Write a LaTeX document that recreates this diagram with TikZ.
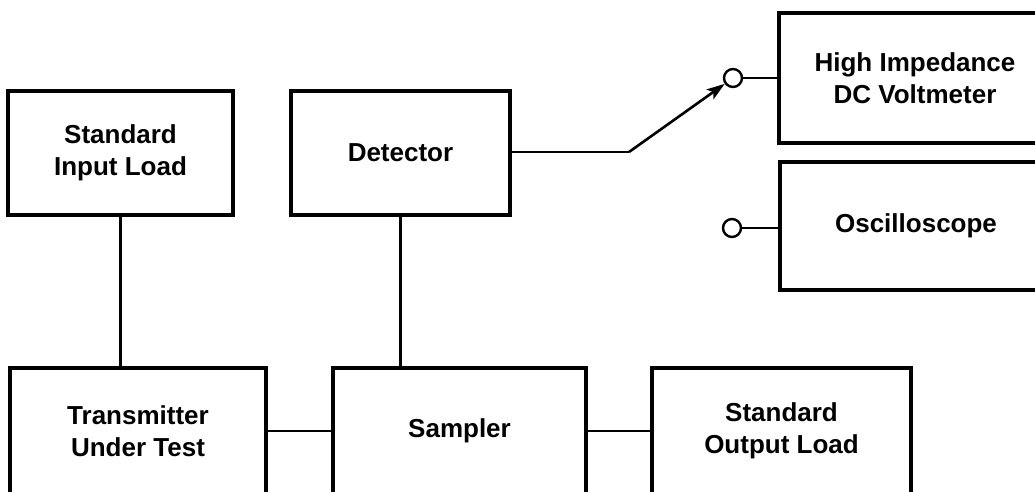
\documentclass[tikz,border=0pt]{standalone}
\usepackage{fontspec}
\setmainfont{Liberation Sans}
\usetikzlibrary{arrows.meta}
\begin{document}
\begin{tikzpicture}[x=1pt,y=-1pt,
  blockbox/.style={draw, line width=3.5pt, align=center, inner sep=0pt,
    font=\fontsize{26}{32}\selectfont\bfseries},
  wire/.style={line width=2.6pt},
  term/.style={circle, draw, line width=2.4pt, inner sep=0pt, minimum size=18pt}]
\useasboundingbox (0,0) rectangle (1035,492);
\clip (0,0) rectangle (1035,492);
\fill[white] (0,0) rectangle (1035,492);
% top row
\node[blockbox, minimum width=225pt, minimum height=124pt] (inload) at (120.5,153) {Standard\\Input Load};
\node[blockbox, minimum width=219pt, minimum height=124pt] (det) at (400.5,153) {Detector};
% bottom row
\node[blockbox, minimum width=256pt, minimum height=126pt] (xmtr) at (138,431) {Transmitter\\Under Test};
\node[blockbox, minimum width=253pt, minimum height=126pt] (samp) at (459.5,431) {Sampler};
\node[blockbox, minimum width=259pt, minimum height=126pt] (outload) at (781.5,431) {Standard\\Output Load};
% right column
\node[blockbox, minimum width=272pt, minimum height=130pt] (dvm) at (915,78) {High Impedance\\DC Voltmeter};
\node[blockbox, minimum width=272pt, minimum height=128pt] (osc) at (916,226) {Oscilloscope};
% terminals
\node[term] (c1) at (733,78) {};
\node[term] (c2) at (732,228) {};
\coordinate (bend) at (629,152);
% connectors
\draw[wire] (inload.south) -- (inload.south |- xmtr.north);
\draw[wire] (det.south) -- (det.south |- samp.north);
\draw[wire] (xmtr.east) -- (samp.west);
\draw[wire] (samp.east) -- (outload.west);
\draw[wire] (det.east |- bend) -- (bend);
\draw[wire, -{Stealth[length=18pt,width=12pt,inset=4pt]}] (bend) -- (c1);
\draw[wire] (c1) -- (dvm.west |- c1);
\draw[wire] (c2) -- (osc.west |- c2);
\end{tikzpicture}
\end{document}
